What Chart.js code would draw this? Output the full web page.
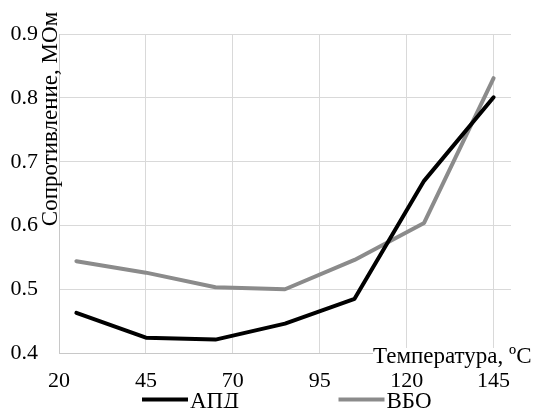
<!DOCTYPE html>
<html>
<head>
<meta charset="utf-8">
<script src="https://cdn.jsdelivr.net/npm/chart.js@4/dist/chart.umd.min.js"></script>
<style>
html,body{margin:0;padding:0;background:#fff;overflow:hidden;}
#wrap{width:536px;height:408px;position:relative;}
</style>
</head>
<body>
<div id="wrap"><canvas id="c" width="536" height="408"></canvas></div>
<script>
const temperatures = [25, 45, 65, 85, 105, 125, 145];
const seriesNames = ['АПД', 'ВБО'];
const apdValues = [0.463, 0.424, 0.421, 0.446, 0.485, 0.670, 0.801];
const vboValues = [0.544, 0.526, 0.503, 0.500, 0.546, 0.604, 0.831];
const xTicks = [20, 45, 70, 95, 120, 145];
const yTicks = [0.4, 0.5, 0.6, 0.7, 0.8, 0.9];
const xTitle = 'Температура, ºC';
const yTitle = 'Сопротивление, МОм';

const FONT = "'Liberation Serif', 'Times New Roman', serif";

const toPoints = vals => temperatures.map((t, i) => ({x: t, y: vals[i]}));

const annot = {
  id: 'annot',
  afterDraw(chart) {
    const ctx = chart.ctx;
    ctx.save();
    ctx.font = '23px ' + FONT;
    ctx.fillStyle = '#000';
    ctx.translate(57, 119);
    ctx.rotate(-Math.PI / 2);
    ctx.textAlign = 'center';
    ctx.textBaseline = 'alphabetic';
    ctx.fillText(yTitle, 0, 0);
    ctx.restore();

    ctx.save();
    ctx.font = '23px ' + FONT;
    const w = ctx.measureText(xTitle).width;
    ctx.fillStyle = '#fff';
    ctx.fillRect(373, 348, w, 16);
    ctx.fillStyle = '#000';
    ctx.textAlign = 'left';
    ctx.textBaseline = 'alphabetic';
    ctx.fillText(xTitle, 373, 363);
    ctx.restore();

    ctx.save();
    const starts = [142, 338.5];
    chart.data.datasets.forEach((ds, i) => {
      const x0 = starts[i];
      ctx.strokeStyle = ds.borderColor;
      ctx.lineWidth = 4;
      ctx.lineCap = 'butt';
      ctx.beginPath();
      ctx.moveTo(x0, 399.5);
      ctx.lineTo(x0 + 46, 399.5);
      ctx.stroke();
      ctx.fillStyle = '#000';
      ctx.font = '23px ' + FONT;
      ctx.textAlign = 'left';
      ctx.textBaseline = 'alphabetic';
      ctx.fillText(ds.label, x0 + 48, 407.5);
    });
    ctx.restore();
  }
};

new Chart(document.getElementById('c'), {
  type: 'scatter',
  data: {
    datasets: [
      {label: seriesNames[0], data: toPoints(apdValues), showLine: true,
       borderColor: '#000000', backgroundColor: '#000000', borderWidth: 4,
       pointRadius: 0, tension: 0, borderCapStyle: 'round', borderJoinStyle: 'round'},
      {label: seriesNames[1], data: toPoints(vboValues), showLine: true,
       borderColor: '#8b8b8b', backgroundColor: '#8b8b8b', borderWidth: 4,
       pointRadius: 0, tension: 0, borderCapStyle: 'round', borderJoinStyle: 'round'}
    ]
  },
  options: {
    responsive: false,
    animation: false,
    devicePixelRatio: 1,
    layout: {padding: {left: 0, right: 25, top: 23, bottom: 0}},
    plugins: {legend: {display: false}, tooltip: {enabled: false}},
    scales: {
      x: {
        type: 'linear', min: 20, max: 150,
        afterBuildTicks: s => { s.ticks = xTicks.map(v => ({value: v})); },
        afterFit: s => { s.height = 55; },
        grid: {color: '#d9d9d9', lineWidth: 1, drawTicks: false},
        border: {color: '#c8c8c8', width: 1},
        ticks: {font: {family: FONT, size: 22}, color: '#000', padding: 15, maxRotation: 0,
                callback: v => String(v)}
      },
      y: {
        type: 'linear', min: 0.4, max: 0.9,
        afterBuildTicks: s => { s.ticks = yTicks.map(v => ({value: v})); },
        afterFit: s => { s.width = 59; },
        grid: {color: '#d9d9d9', lineWidth: 1, drawTicks: false},
        border: {color: '#c8c8c8', width: 1},
        ticks: {font: {family: FONT, size: 22}, color: '#000', padding: 21,
                callback: v => v.toFixed(1)}
      }
    }
  },
  plugins: [annot]
});
</script>
</body>
</html>
